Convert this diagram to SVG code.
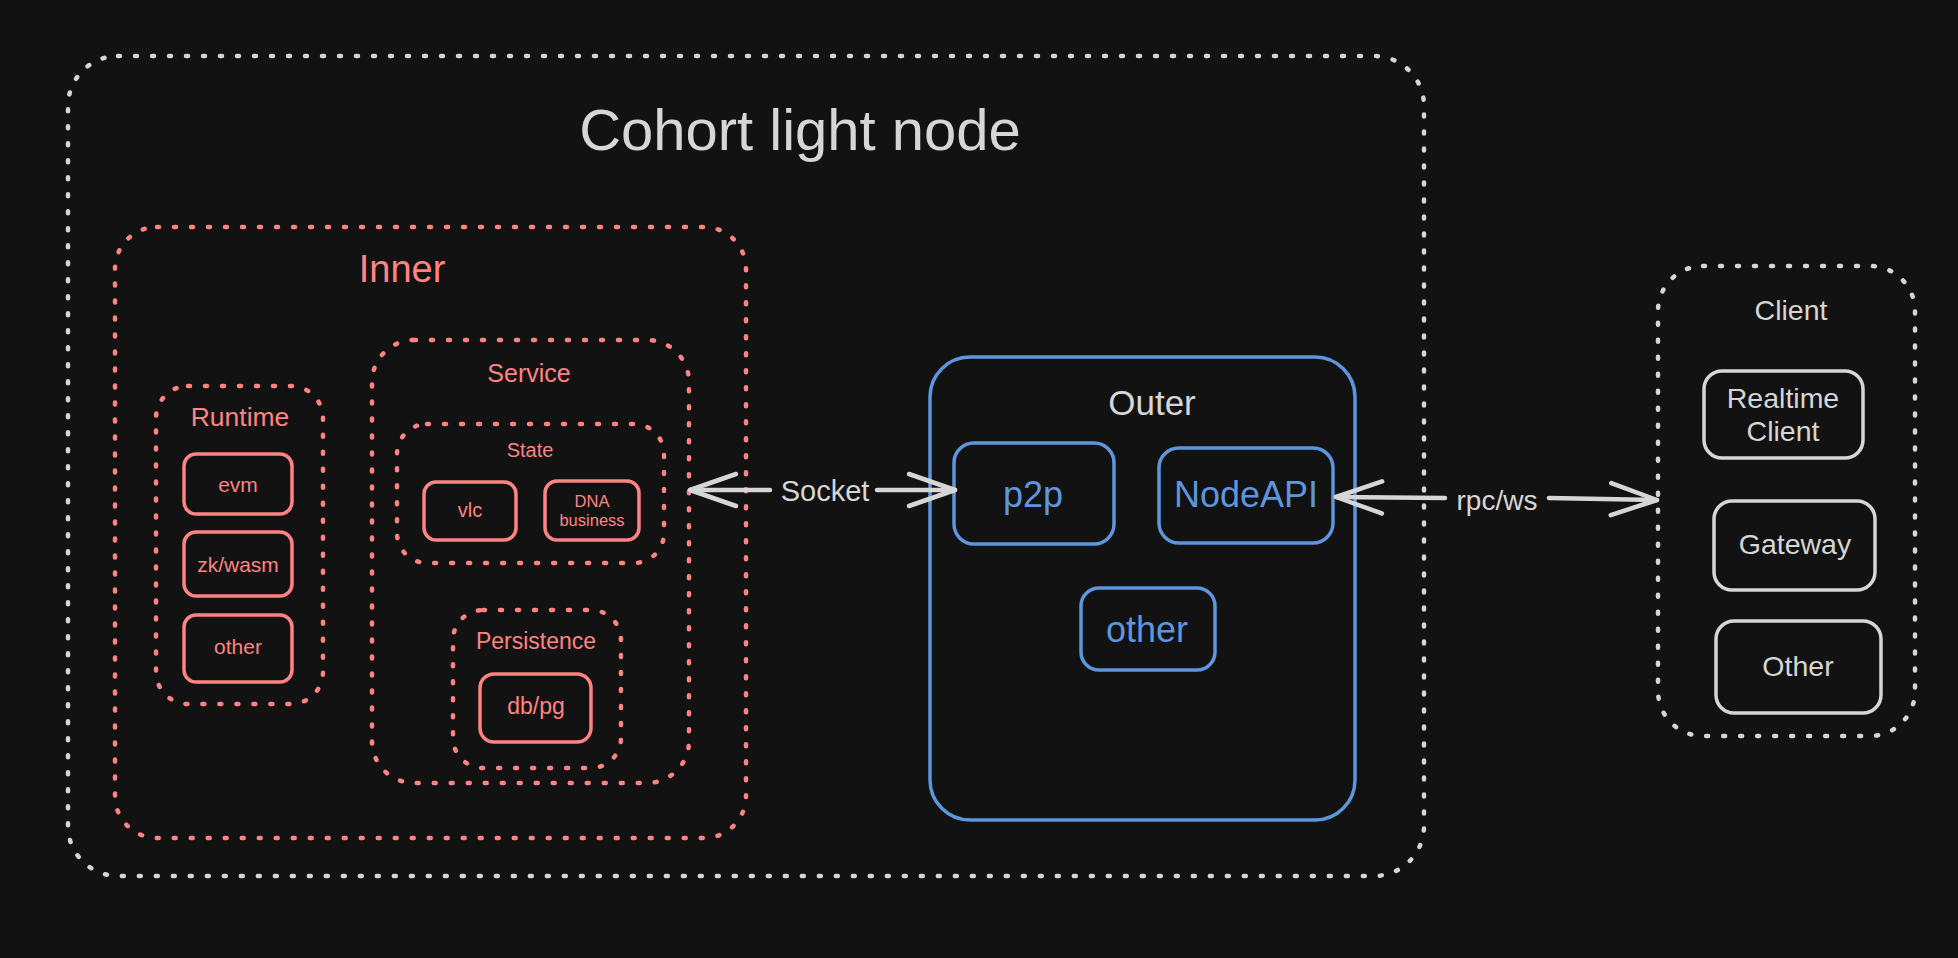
<svg xmlns="http://www.w3.org/2000/svg" width="1958" height="958" viewBox="0 0 1958 958">
<style>
text{font-family:"Liberation Sans",Arial,Helvetica,sans-serif;text-anchor:middle}
.w{fill:#d6d6d6}.r{fill:#ff8383}.b{fill:#5e96de}
.dw{fill:none;stroke:#d6d6d6;stroke-width:4.5;stroke-dasharray:2 15;stroke-linecap:round}
.dr{fill:none;stroke:#ff8383;stroke-width:4.5;stroke-dasharray:2 15;stroke-linecap:round}
.sr{fill:none;stroke:#ff8383;stroke-width:3.5}
.sb{fill:none;stroke:#5e96de;stroke-width:3.5}
.sw{fill:none;stroke:#d6d6d6;stroke-width:3.5}
.ln{fill:none;stroke:#d6d6d6;stroke-width:4.5;stroke-linecap:round}
</style>
<defs>
<marker id="ah" viewBox="-60 -25 70 50" markerWidth="70" markerHeight="50" refX="0" refY="0" orient="auto" markerUnits="userSpaceOnUse" overflow="visible">
<path d="M-46 -16 L0 0 L-46 16" fill="none" stroke="#d6d6d6" stroke-width="4.5" stroke-linecap="round" stroke-linejoin="round"/>
</marker>
</defs>
<rect width="1958" height="958" fill="#121212"/>
<g id="cohort">
<rect class="dw" x="68" y="56" width="1356" height="820" rx="50"/>
<text class="w" x="800" y="150" font-size="58">Cohort light node</text>
</g>
<g id="inner">
<rect class="dr" x="115" y="227" width="631" height="611" rx="42"/>
<text class="r" x="402" y="282" font-size="38">Inner</text>
</g>
<g id="runtime">
<rect class="dr" x="156" y="386" width="167" height="318" rx="32"/>
<text class="r" x="240" y="426" font-size="26.5">Runtime</text>
</g>
<g id="evm">
<rect class="sr" x="184" y="454" width="108" height="60" rx="12"/>
<text class="r" x="238" y="492" font-size="21">evm</text>
</g>
<g id="zkwasm">
<rect class="sr" x="184" y="532" width="108" height="64" rx="12"/>
<text class="r" x="238" y="572" font-size="21">zk/wasm</text>
</g>
<g id="runtime-other">
<rect class="sr" x="184" y="615" width="108" height="67" rx="12"/>
<text class="r" x="238" y="654" font-size="21">other</text>
</g>
<g id="service">
<rect class="dr" x="372" y="340" width="317" height="443" rx="42"/>
<text class="r" x="529" y="382" font-size="25">Service</text>
</g>
<g id="state">
<rect class="dr" x="397" y="424" width="267" height="139" rx="30"/>
<text class="r" x="530" y="457" font-size="20">State</text>
</g>
<g id="vlc">
<rect class="sr" x="424" y="482" width="92" height="58" rx="12"/>
<text class="r" x="470" y="517" font-size="20">vlc</text>
</g>
<g id="dna">
<rect class="sr" x="545" y="481" width="94" height="59" rx="12"/>
<text class="r" x="592" y="507" font-size="16.5">DNA</text>
<text class="r" x="592" y="526" font-size="16.5">business</text>
</g>
<g id="persistence">
<rect class="dr" x="453" y="610" width="168" height="158" rx="30"/>
<text class="r" x="536" y="649" font-size="23">Persistence</text>
</g>
<g id="dbpg">
<rect class="sr" x="480" y="674" width="111" height="68" rx="14"/>
<text class="r" x="536" y="714" font-size="23">db/pg</text>
</g>
<g id="outer">
<rect class="sb" x="930" y="357" width="425" height="463" rx="40"/>
<text class="w" x="1152" y="415" font-size="35">Outer</text>
</g>
<g id="p2p">
<rect class="sb" x="954" y="443" width="160" height="101" rx="20"/>
<text class="b" x="1033" y="507" font-size="36">p2p</text>
</g>
<g id="nodeapi">
<rect class="sb" x="1159" y="448" width="174" height="95" rx="20"/>
<text class="b" x="1246" y="507" font-size="36">NodeAPI</text>
</g>
<g id="outer-other">
<rect class="sb" x="1081" y="588" width="134" height="82" rx="18"/>
<text class="b" x="1147" y="642" font-size="36">other</text>
</g>
<g id="client">
<rect class="dw" x="1658" y="266" width="257" height="470" rx="45"/>
<text class="w" x="1791" y="320" font-size="28.5">Client</text>
</g>
<g id="realtime">
<rect class="sw" x="1704" y="371" width="159" height="87" rx="18"/>
<text class="w" x="1783" y="408" font-size="28.5">Realtime</text>
<text class="w" x="1783" y="441" font-size="28.5">Client</text>
</g>
<g id="gateway">
<rect class="sw" x="1714" y="501" width="161" height="89" rx="18"/>
<text class="w" x="1795" y="554" font-size="28.5">Gateway</text>
</g>
<g id="client-other">
<rect class="sw" x="1716" y="621" width="165" height="92" rx="18"/>
<text class="w" x="1798" y="676" font-size="28.5">Other</text>
</g>
<g id="connectors">
<line class="ln" x1="770" y1="490" x2="690" y2="490" marker-end="url(#ah)"/>
<line class="ln" x1="877" y1="490" x2="955" y2="490" marker-end="url(#ah)"/>
<text class="w" x="825" y="501" font-size="29">Socket</text>
<line class="ln" x1="1445" y1="498" x2="1336" y2="497" marker-end="url(#ah)"/>
<line class="ln" x1="1549" y1="498" x2="1657" y2="500" marker-end="url(#ah)"/>
<text class="w" x="1497" y="510" font-size="28">rpc/ws</text>
</g>
</svg>
